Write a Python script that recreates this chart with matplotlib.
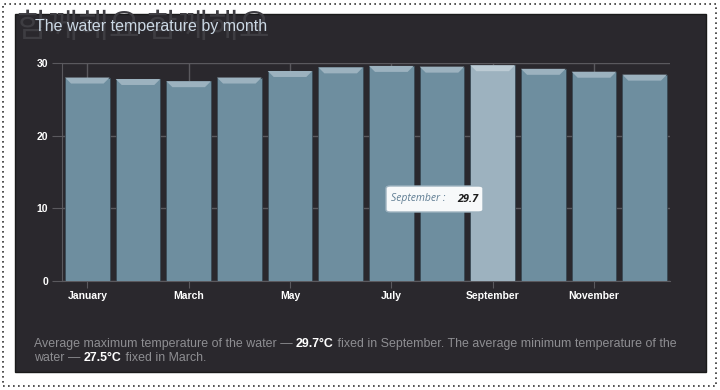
import numpy as np
import matplotlib.pyplot as plt
from matplotlib.patches import Rectangle, Polygon, FancyBboxPatch

months = ["January", "February", "March", "April", "May", "June", "July",
          "August", "September", "October", "November", "December"]
water_temp = [28.0, 27.8, 27.5, 28.0, 28.9, 29.4, 29.6, 29.5, 29.7, 29.2, 28.8, 28.4]
y_ticks = [0, 10, 20, 30]
highlight = "September"

title = "The water temperature by month"
watermark = "함께해요 함께해요"
footer_parts = [
    ("Average maximum temperature of the water \u2014 ", False),
    ("29.7\u00b0C", True),
    (" fixed in September. The average minimum temperature of the", False),
]
footer_parts2 = [
    ("water \u2014 ", False),
    ("27.5\u00b0C", True),
    (" fixed in March.", False),
]

plt.rcParams["font.family"] = ["Liberation Sans", "DejaVu Sans"]

W, H = 720, 390
fig = plt.figure(figsize=(W / 100, H / 100), dpi=100, facecolor="white")

# dotted outer frame and dark panel
fig.patches.append(Rectangle((3 / W, 4 / H), 713 / W, 382 / H, transform=fig.transFigure,
                             fill=False, edgecolor="#333333", linestyle=(0, (1, 2)), lw=1.2,
                             zorder=-10))
fig.patches.append(Rectangle((15 / W, 1 - 372 / H), 691 / W, 358 / H, transform=fig.transFigure,
                             facecolor="#2a282d", edgecolor="#1a1a1a", lw=1, zorder=-10))

fig.text(17 / W, 1 - 28 / H, watermark, family=["Noto Sans CJK KR", "DejaVu Sans"],
         fontsize=24, color="#3e3d42", va="center", ha="left", zorder=-5)
fig.text(35 / W, 1 - 27 / H, title, fontsize=11.5, color="#cbd8e4", va="center", ha="left")

ax = fig.add_axes([62 / W, 1 - 281 / H, 608 / W, 218 / H])
ax.set_facecolor("none")
x = np.arange(len(months))
colors = ["#9db2bf" if m == highlight else "#6e8e9f" for m in months]
bars = ax.bar(x, water_temp, width=0.88, color=colors, edgecolor="#3a4a55", lw=0.6, zorder=3)

# bevel highlight at the top of each bar
px_y = 30 / 218
px_x = 12 / 608
for b, c in zip(bars, colors):
    x0, x1, top = b.get_x(), b.get_x() + b.get_width(), b.get_height()
    light = "#bccbd4" if c == "#9db2bf" else "#9cb2bf"
    ax.add_patch(Polygon([(x0, top), (x1, top), (x1 - 6 * px_x, top - 6 * px_y),
                          (x0 + 6 * px_x, top - 6 * px_y)], closed=True,
                         facecolor=light, edgecolor="none", zorder=4))

ax.set_xlim(-0.5, len(months) - 0.5)
ax.set_ylim(0, 30)
ax.set_yticks(y_ticks)
ax.set_xticks(x[::2])
ax.set_xticklabels(months[::2])
for s in ["top", "right"]:
    ax.spines[s].set_visible(False)
ax.spines["left"].set_color("#5a595e")
ax.spines["bottom"].set_color("#5a595e")
ax.grid(True, color="#5a595e", lw=1, zorder=0)
ax.tick_params(axis="y", length=7, color="#5a595e", labelcolor="white", labelsize=7.5, pad=3)
ax.tick_params(axis="x", length=5, color="#5a595e", labelcolor="white", labelsize=7.5, pad=2)
for lab in ax.get_yticklabels() + ax.get_xticklabels():
    lab.set_fontweight("bold")

# tooltip
i = months.index(highlight)
tip = FancyBboxPatch((386 / W, 1 - 212 / H), 97 / W, 26 / H, transform=fig.transFigure,
                     boxstyle="round,pad=0,rounding_size=0.006", facecolor="#f7f9fa",
                     edgecolor="#9db2bf", lw=1, zorder=10)
fig.patches.append(tip)
fig.text(391 / W, 1 - 199 / H, months[i] + " :", fontsize=7.5, style="italic",
         color="#5f7d93", va="center", ha="left",
         family=["Open Sans", "DejaVu Sans"], zorder=11)
fig.text(478 / W, 1 - 199 / H, f"{water_temp[i]}", fontsize=7.8, style="italic",
         weight="bold", color="#1e1e1e", va="center", ha="right",
         family=["Open Sans", "DejaVu Sans"], zorder=11)

# footer with bold values
renderer = fig.canvas.get_renderer()
for parts, ypx in [(footer_parts, 344), (footer_parts2, 358)]:
    xpos = 34 / W
    for s, bold in parts:
        t = fig.text(xpos, 1 - ypx / H, s, fontsize=8.9,
                     color="white" if bold else "#8e8e92",
                     weight="bold" if bold else "normal", va="center", ha="left")
        bb = t.get_window_extent(renderer)
        xpos += bb.width / W

fig.savefig("out.png", dpi=100, facecolor="white")
